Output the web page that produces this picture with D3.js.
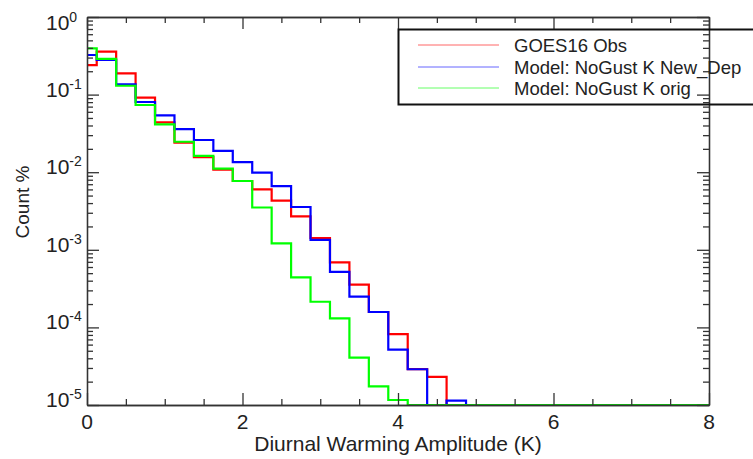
<!DOCTYPE html>
<html>
<head>
<meta charset="utf-8">
<script src="https://cdn.jsdelivr.net/npm/d3@7"></script>
<style>
body { margin: 0; background: #fff; }
text { font-family: "Liberation Sans", Arial, sans-serif; fill: #222; }
</style>
</head>
<body>
<div id="chart"></div>
<script>
/*global d3*/

// bin centres (K)
var binCenters = [0, 0.25, 0.5, 0.75, 1, 1.25, 1.5, 1.75, 2, 2.25, 2.5, 2.75, 3, 3.25, 3.5, 3.75,
	4, 4.25, 4.5, 4.75, 5, 5.25, 5.5, 5.75, 6, 6.25, 6.5, 6.75, 7, 7.25, 7.5, 7.75, 8];

var goesObs = [0.240, 0.357, 0.188, 0.0912, 0.0439, 0.0240, 0.0156, 0.0108, 0.0077, 0.0060,
	0.0043, 0.0027, 0.00142, 0.00069, 0.000355, 0.000158, 0.000082, 0.000029, 0.000023,
	0, 0, 0, 0, 0, 0, 0, 0, 0, 0, 0, 0, 0, 0];

var newDep = [0.324, 0.279, 0.136, 0.0803, 0.0541, 0.0360, 0.0260, 0.0188, 0.01345, 0.0099,
	0.0066, 0.00356, 0.00134, 0.000518, 0.000249, 0.000158, 0.0000516, 0.0000289, 0, 0.0000114,
	0, 0, 0, 0, 0, 0, 0, 0, 0, 0, 0, 0, 0];

var origK = [0.395, 0.288, 0.130, 0.0734, 0.0414, 0.0247, 0.0162, 0.0111, 0.0077, 0.00351,
	0.00121, 0.00044, 0.000214, 0.000131, 0.0000409, 0.0000174, 0.0000116,
	0, 0, 0, 0, 0, 0, 0, 0, 0, 0, 0, 0, 0, 0, 0, 0];

var seriesNames = ['GOES16 Obs', 'Model: NoGust K New_Dep', 'Model: NoGust K orig'];
var seriesColors = ['#ff0000', '#0000ff', '#00ff00'];

var xMajor = [0, 2, 4, 6, 8];
var xMinor = [0.5, 1, 1.5, 2.5, 3, 3.5, 4.5, 5, 5.5, 6.5, 7, 7.5];
var yExponents = [0, -1, -2, -3, -4, -5];

var width = 753, height = 459;
var plotL = 87, plotR = 709, plotT = 17, plotB = 405;

var svg = d3.select('#chart').append('svg')
	.attr('width', width).attr('height', height);

var x = d3.scaleLinear().domain([0, 8]).range([plotL, plotR]);
var y = d3.scaleLog().domain([1e-5, 1]).range([plotB, plotT]);

var yMajor = yExponents.map(function (e) { return Math.pow(10, e); });
var yMinor = y.ticks().filter(function (t) {
	return yMajor.every(function (m) { return Math.abs(t / m - 1) > 1e-6; });
});

// histogram steps (IDL psym=10 style)
var line = d3.line()
	.curve(d3.curveStep)
	.x(function (d) { return x(d[0]); })
	.y(function (d) { return y(Math.max(d[1], 1e-5)); });

[goesObs, newDep, origK].forEach(function (vals, i) {
	svg.append('path')
		.attr('d', line(binCenters.map(function (c, k) { return [c, vals[k]]; })))
		.attr('fill', 'none')
		.attr('stroke', seriesColors[i])
		.attr('stroke-width', 2.2);
});

// axes box with inward ticks
function styleAxis(g) {
	g.selectAll('path, line').attr('stroke', '#333').attr('stroke-width', 1.3);
	g.selectAll('text').remove();
}

function addAxis(axis, tx, ty) {
	svg.append('g').attr('transform', 'translate(' + tx + ',' + ty + ')')
		.call(axis.tickSizeOuter(0).tickFormat(''))
		.call(styleAxis);
}

addAxis(d3.axisBottom(x).tickValues(xMajor).tickSize(-12), 0, plotB);
addAxis(d3.axisBottom(x).tickValues(xMinor).tickSize(-6), 0, plotB);
addAxis(d3.axisTop(x).tickValues(xMajor).tickSize(-12), 0, plotT);
addAxis(d3.axisTop(x).tickValues(xMinor).tickSize(-6), 0, plotT);
addAxis(d3.axisLeft(y).tickValues(yMajor).tickSize(-12), plotL, 0);
addAxis(d3.axisLeft(y).tickValues(yMinor).tickSize(-6), plotL, 0);
addAxis(d3.axisRight(y).tickValues(yMajor).tickSize(-12), plotR, 0);
addAxis(d3.axisRight(y).tickValues(yMinor).tickSize(-6), plotR, 0);

// tick labels
svg.selectAll('.xlab').data(xMajor).enter().append('text')
	.attr('class', 'xlab')
	.attr('x', function (d) { return x(d); })
	.attr('y', plotB + 24)
	.attr('text-anchor', 'middle')
	.style('font-size', '21px')
	.text(function (d) { return d; });

var ylab = svg.selectAll('.ylab').data(yExponents).enter().append('text')
	.attr('class', 'ylab')
	.attr('x', 46)
	.attr('y', function (d) { return d === 0 ? y(1) + 13 : y(Math.pow(10, d)) + 2; })
	.style('font-size', '21px');
ylab.append('tspan').text('10');
ylab.append('tspan').attr('dy', -8).style('font-size', '14px')
	.text(function (d) { return d === 0 ? '0' : '-' + (-d); });

// axis titles
svg.append('text')
	.attr('x', (plotL + plotR) / 2).attr('y', 451)
	.attr('text-anchor', 'middle')
	.style('font-size', '21px')
	.text('Diurnal Warming Amplitude (K)');

svg.append('text')
	.attr('transform', 'translate(29,202) rotate(-90)')
	.attr('text-anchor', 'middle')
	.style('font-size', '19px')
	.text('Count %');

// legend
var legend = svg.append('g');
legend.append('rect')
	.attr('x', 398.5).attr('y', 29.5)
	.attr('width', 380).attr('height', 75)
	.attr('fill', 'none').attr('stroke', '#111').attr('stroke-width', 2);

var legendY = [45, 67, 88];
seriesNames.forEach(function (name, i) {
	legend.append('line')
		.attr('x1', 418).attr('x2', 499)
		.attr('y1', legendY[i]).attr('y2', legendY[i])
		.attr('stroke', seriesColors[i]).attr('stroke-width', 1)
		.attr('stroke-opacity', 0.6);
	legend.append('text')
		.attr('x', 514).attr('y', legendY[i] + 7)
		.style('font-size', '18.5px')
		.text(name);
});
</script>
</body>
</html>
